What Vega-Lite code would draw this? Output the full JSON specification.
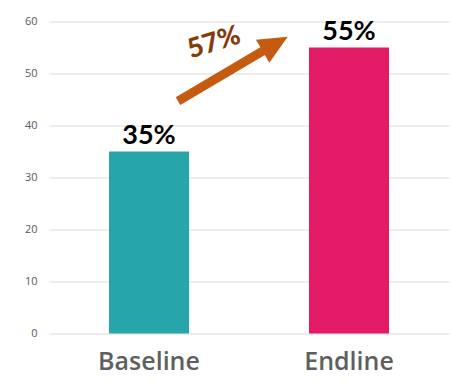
{
  "$schema": "https://vega.github.io/schema/vega-lite/v6.json",
  "width": 400,
  "height": 312,
  "autosize": {"type": "none"},
  "padding": {"left": 49, "top": 21.5, "right": 10, "bottom": 51.5},
  "background": "white",
  "config": {"view": {"stroke": null}, "font": "Lato"},
  "datasets": {
    "bars": [
      {"category": "Baseline", "value": 35, "label": "35%"},
      {"category": "Endline", "value": 55, "label": "55%"}
    ],
    "arrow": [
      {"x_from": 0.645, "y_from": 44.7, "x_to": 1.085, "y_to": 54.7, "x_head": 1.131, "y_head": 55.67}
    ],
    "change": [
      {"x": 0.825, "y": 55.87, "label": "57%"}
    ]
  },
  "layer": [
    {
      "data": {"name": "bars"},
      "encoding": {
        "x": {
          "field": "category",
          "type": "nominal",
          "sort": null,
          "scale": {"paddingInner": 0.6, "paddingOuter": 0.3},
          "axis": {
            "title": null,
            "domain": false,
            "ticks": false,
            "labelAngle": 0,
            "labelPadding": 16,
            "labelFontSize": 25,
            "labelFont": "Open Sans",
            "labelFontWeight": 600,
            "labelColor": "#5F5F5F"
          }
        },
        "y": {
          "field": "value",
          "type": "quantitative",
          "scale": {"domain": [0, 60], "nice": false},
          "axis": {
            "title": null,
            "values": [0, 10, 20, 30, 40, 50, 60],
            "grid": true,
            "gridColor": "#D9D9D9",
            "domain": false,
            "ticks": false,
            "labelPadding": 12,
            "labelFontSize": 11,
            "labelFont": "Open Sans",
            "labelColor": "#595959"
          }
        }
      },
      "layer": [
        {
          "mark": {"type": "bar"},
          "encoding": {
            "color": {
              "field": "category",
              "type": "nominal",
              "scale": {"domain": ["Baseline", "Endline"], "range": ["#26A5AA", "#E31A65"]},
              "legend": null
            }
          }
        },
        {
          "mark": {"type": "text", "baseline": "alphabetic", "dy": -8, "fontSize": 27, "fontWeight": "bold", "font": "Lato", "color": "#000000"},
          "encoding": {"text": {"field": "label"}}
        }
      ]
    },
    {
      "layer": [
        {
          "data": {"name": "arrow"},
          "mark": {"type": "rule", "color": "#C55A11", "strokeWidth": 9, "strokeCap": "butt"},
          "encoding": {
            "x": {"field": "x_from", "type": "quantitative", "scale": {"domain": [0, 2]}, "axis": null},
            "y": {"field": "y_from", "type": "quantitative"},
            "x2": {"field": "x_to"},
            "y2": {"field": "y_to"}
          }
        },
        {
          "data": {"name": "arrow"},
          "mark": {"type": "point", "shape": "M1,0 L-1,-0.92 L-1,0.92 Z", "filled": true, "color": "#C55A11", "opacity": 1, "size": 841, "angle": 330},
          "encoding": {
            "x": {"field": "x_head", "type": "quantitative", "scale": {"domain": [0, 2]}, "axis": null},
            "y": {"field": "y_head", "type": "quantitative"}
          }
        },
        {
          "data": {"name": "change"},
          "mark": {"type": "text", "align": "center", "baseline": "middle", "angle": 343, "fontSize": 27, "fontWeight": 900, "font": "Lato", "color": "#843C0C"},
          "encoding": {
            "x": {"field": "x", "type": "quantitative", "scale": {"domain": [0, 2]}, "axis": null},
            "y": {"field": "y", "type": "quantitative"},
            "text": {"field": "label"}
          }
        }
      ]
    }
  ],
  "resolve": {"scale": {"x": "independent"}}
}
